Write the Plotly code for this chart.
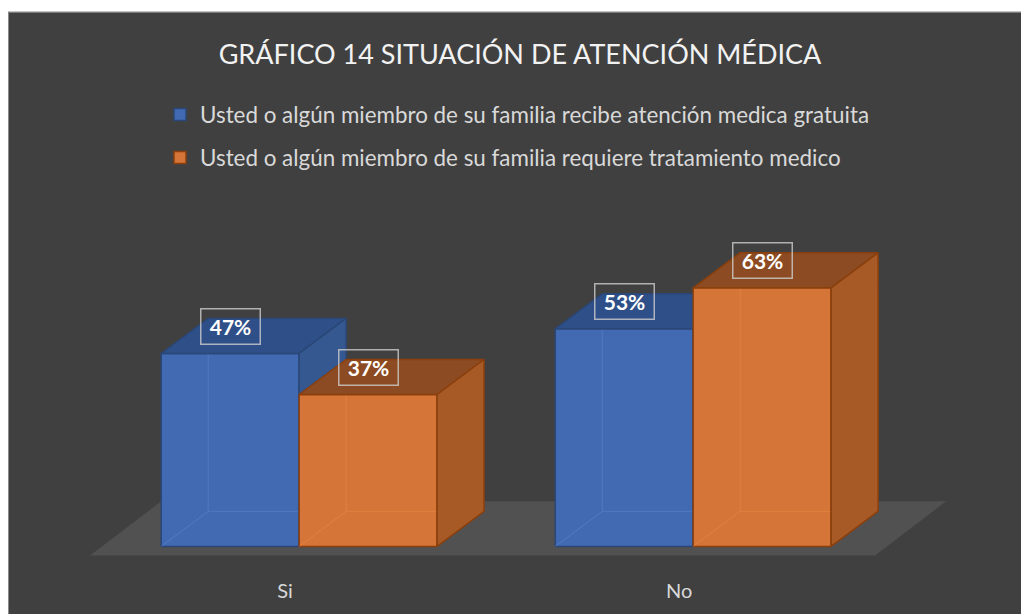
import plotly.graph_objects as go

# ---------------- data ----------------
categories = ["Si", "No"]
series_names = [
    "Usted o algún miembro de su familia recibe atención medica gratuita",
    "Usted o algún miembro de su familia requiere tratamiento medico",
]
recibe_gratuita = [47, 53]
requiere_tratamiento = [37, 63]
title_text = "GRÁFICO 14 SITUACIÓN DE ATENCIÓN MÉDICA"

# ---------------- layout geometry (screen px) ----------------
FIG_W, FIG_H = 1021, 614
M_L, M_R, M_T, M_B = 43, 52, 177, 43.4
X_RANGE = [-0.65, 1.7]
Y_RANGE = [-6, 90]
PW = FIG_W - M_L - M_R
PH = FIG_H - M_T - M_B
SX = PW / (X_RANGE[1] - X_RANGE[0])   # px per x unit
SY = PH / (Y_RANGE[1] - Y_RANGE[0])   # px per y unit

DX, DY = 47 / SX, 35 / SY             # 3D depth offset
BAR_W = 0.35
LABEL_SHIFT = 14 / SX

FONT = "Lato"
BG = "#404040"
FRAME_X, FRAME_Y = 8, 12              # white page border around chart area

styles = [
    dict(front="#416ab2", top="#2f4f88", side="#34588f", edge="#2a4778", inner="rgba(120,160,225,0.3)"),
    dict(front="#d57537", top="#8c4b22", side="#a85a26", edge="#8a3f0c", inner="rgba(240,150,80,0.4)"),
]
series_values = [recibe_gratuita, requiere_tratamiento]
offsets = [-BAR_W, 0.0]

fig = go.Figure()

# floor
F_Y = -9 / SY
F_X0, F_X1 = (90 - 299) / SX, (875 - 299) / SX
FDX, FDY = 71 / SX, 54 / SY
fig.add_trace(go.Scatter(
    x=[F_X0, F_X1, F_X1 + FDX, F_X0 + FDX, F_X0],
    y=[F_Y, F_Y, F_Y + FDY, F_Y + FDY, F_Y],
    fill="toself", fillcolor="#525151", line=dict(width=0), mode="lines",
    hoverinfo="skip", showlegend=False))


def add_box(x0, x1, v, st):
    # front face
    fig.add_trace(go.Scatter(
        x=[x0, x1, x1, x0, x0], y=[0, 0, v, v, 0], fill="toself",
        fillcolor=st["front"], line=dict(color=st["edge"], width=1.5),
        mode="lines", hoverinfo="skip", showlegend=False))
    # faint hidden back edges seen through the face
    fig.add_trace(go.Scatter(
        x=[x0, x0 + DX, x1 + DX, None, x0 + DX, x0 + DX],
        y=[0, DY, DY, None, DY, v + DY],
        line=dict(color=st["inner"], width=1), mode="lines",
        hoverinfo="skip", showlegend=False))
    # top face
    fig.add_trace(go.Scatter(
        x=[x0, x1, x1 + DX, x0 + DX, x0], y=[v, v, v + DY, v + DY, v],
        fill="toself", fillcolor=st["top"], line=dict(color=st["edge"], width=1.5),
        mode="lines", hoverinfo="skip", showlegend=False))
    # side face
    fig.add_trace(go.Scatter(
        x=[x1, x1 + DX, x1 + DX, x1, x1], y=[0, DY, v + DY, v, 0],
        fill="toself", fillcolor=st["side"], line=dict(color=st["edge"], width=1.5),
        mode="lines", hoverinfo="skip", showlegend=False))


for ci, cat in enumerate(categories):
    for si, vals in enumerate(series_values):
        x0 = ci + offsets[si]
        add_box(x0, x0 + BAR_W, vals[ci], styles[si])

# value labels
for ci, cat in enumerate(categories):
    for si, vals in enumerate(series_values):
        fig.add_annotation(
            x=ci + offsets[si] + BAR_W / 2, y=vals[ci], yshift=27,
            text=f"<b>{vals[ci]}%</b>", showarrow=False,
            font=dict(family=FONT, size=21, color="white"),
            width=56, height=32, bgcolor="rgba(0,0,0,0)",
            bordercolor="rgba(205,205,205,0.8)", borderwidth=1.5,
            xanchor="center", yanchor="middle")

# legend entries
legend_rows = [115, 158]
for si, name in enumerate(series_names):
    fig.add_trace(go.Bar(
        x=[None], y=[None], name=name,
        marker=dict(color=styles[si]["front"], line=dict(color=styles[si]["edge"], width=1.5)),
        legend="legend" if si == 0 else "legend2"))

legend_common = dict(
    xref="container", yref="container", xanchor="left", yanchor="middle",
    x=160 / FIG_W, bgcolor="rgba(0,0,0,0)",
    font=dict(family=FONT, size=22.4, color="#d9d9d9"))


def px_to_paper_x(fx):
    return (fx - M_L) / PW


def px_to_paper_y(fy):
    return 1 + (M_T - fy) / PH


shapes = [
    # white page border: top strip and left strip
    dict(type="rect", xref="paper", yref="paper", layer="below",
         x0=px_to_paper_x(-2), x1=px_to_paper_x(FIG_W + 2),
         y0=px_to_paper_y(-2), y1=px_to_paper_y(FRAME_Y),
         fillcolor="white", line=dict(width=0)),
    dict(type="rect", xref="paper", yref="paper", layer="below",
         x0=px_to_paper_x(-2), x1=px_to_paper_x(FRAME_X),
         y0=px_to_paper_y(-2), y1=px_to_paper_y(FIG_H + 2),
         fillcolor="white", line=dict(width=0)),
    dict(type="line", xref="paper", yref="paper",
         x0=px_to_paper_x(FRAME_X + 0.5), x1=px_to_paper_x(FIG_W),
         y0=px_to_paper_y(FRAME_Y + 0.5), y1=px_to_paper_y(FRAME_Y + 0.5),
         line=dict(color="#8a8a8a", width=1)),
    dict(type="line", xref="paper", yref="paper",
         x0=px_to_paper_x(FRAME_X + 0.5), x1=px_to_paper_x(FRAME_X + 0.5),
         y0=px_to_paper_y(FRAME_Y + 0.5), y1=px_to_paper_y(FIG_H),
         line=dict(color="#8a8a8a", width=1)),
]

fig.update_layout(
    width=FIG_W, height=FIG_H,
    margin=dict(l=M_L, r=M_R, t=M_T, b=M_B, pad=0, autoexpand=False),
    paper_bgcolor=BG, plot_bgcolor=BG,
    title=dict(text=title_text, x=520 / FIG_W, xanchor="center",
               xref="container", yref="container",
               y=1 - 55 / FIG_H, yanchor="middle",
               font=dict(family=FONT, size=27, color="#f2f2f2")),
    legend=dict(y=1 - legend_rows[0] / FIG_H, **legend_common),
    legend2=dict(y=1 - legend_rows[1] / FIG_H, **legend_common),
    xaxis=dict(range=X_RANGE, showgrid=False, zeroline=False, showline=False,
               tickmode="array", tickvals=[i - LABEL_SHIFT for i in range(len(categories))],
               ticktext=categories, ticks="outside", ticklen=2, tickcolor="rgba(0,0,0,0)",
               tickfont=dict(family=FONT, size=20, color="#d9d9d9"), fixedrange=True),
    yaxis=dict(range=Y_RANGE, showgrid=False, zeroline=False, showline=False,
               showticklabels=False, fixedrange=True),
    shapes=shapes,
    showlegend=True,
)

fig.write_html(
    "out.html",
    config={"displayModeBar": False},
    post_script="document.body.style.margin='0';document.body.style.overflow='hidden';",
)
